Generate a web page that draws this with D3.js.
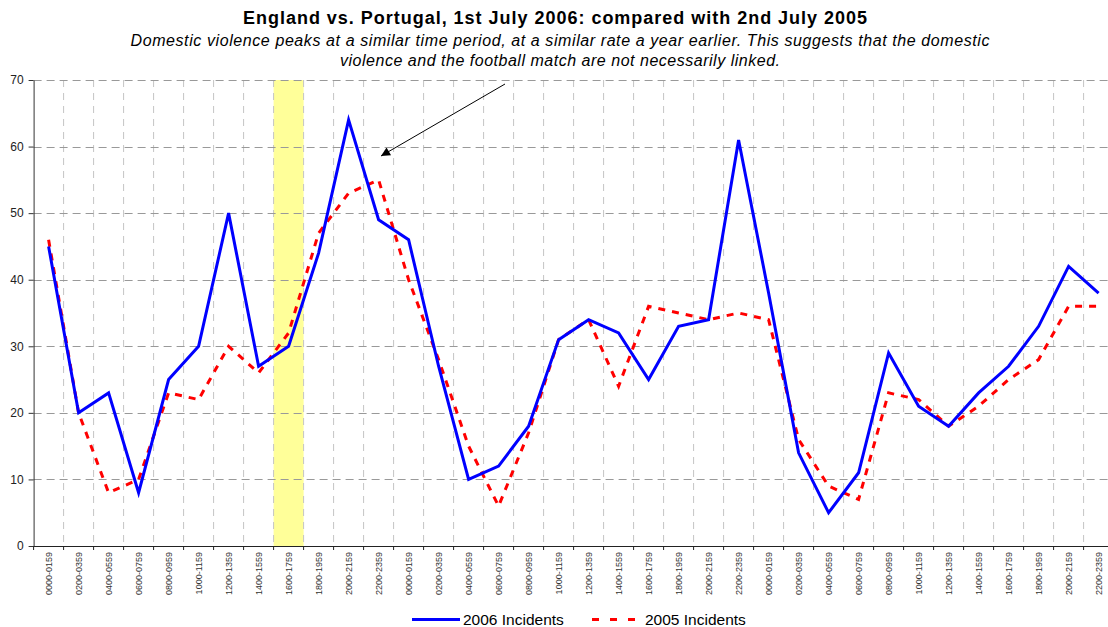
<!DOCTYPE html>
<html>
<head>
<meta charset="utf-8">
<script src="https://cdn.jsdelivr.net/npm/d3@7/dist/d3.min.js"></script>
<style>
    html, body { margin: 0; padding: 0; background: #fff; }
    svg { display: block; font-family: "Liberation Sans", Arial, sans-serif; }
</style>
</head>
<body>
<svg id="chart" width="1108" height="627"></svg>
<script>
// time slots, 3 consecutive days of 2-hour bands
const timeSlots = ['0000-0159', '0200-0359', '0400-0559', '0600-0759', '0800-0959', '1000-1159',
    '1200-1359', '1400-1559', '1600-1759', '1800-1959', '2000-2159', '2200-2359'];
const categories = timeSlots.concat(timeSlots, timeSlots);

const incidents2006 = [45, 20, 23, 8, 25, 30, 50, 27, 30, 44, 64, 49,
    46, 27, 10, 12, 18, 31, 34, 32, 25, 33, 34, 61,
    38, 14, 5, 11, 29, 21, 18, 23, 27, 33, 42, 38];
const incidents2005 = [46, 20, 8, 10, 23, 22, 30, 26, 32, 47, 53, 55,
    40, 28, 15, 6, 17, 31, 34, 24, 36, 35, 34, 35,
    34, 16, 9, 7, 23, 22, 18, 21, 25, 28, 36, 36];

const yTicks = [0, 10, 20, 30, 40, 50, 60, 70];
const highlightIndex = 8; // match kick-off band
const seriesNames = ['2006 Incidents', '2005 Incidents'];

const titleText = 'England vs. Portugal, 1st July 2006: compared with 2nd July 2005';
const subtitleLines = [
    'Domestic violence peaks at a similar time period, at a similar rate a year earlier. This suggests that the domestic',
    'violence and the football match are not necessarily linked.'
];

(function () {
    const svg = d3.select('#chart');
    const W = 1108;

    // plot area (runs slightly past the right edge, as in the original)
    const left = 33.6, top = 80, bottom = 546;
    const bandW = 30;
    const right = left + bandW * categories.length;

    const idx = d3.range(categories.length);
    const x = d3.scaleBand().domain(idx).range([left, right]).paddingInner(0).paddingOuter(0);
    const cx = i => x(i) + x.bandwidth() / 2;
    const y = d3.scaleLinear().domain([0, 70]).range([bottom, top]);

    // highlight band
    svg.append('rect')
        .attr('x', x(highlightIndex))
        .attr('y', top)
        .attr('width', x.bandwidth())
        .attr('height', bottom - top)
        .attr('fill', '#FFFF99');

    // vertical grid
    svg.append('g')
        .selectAll('line')
        .data(idx.slice(1))
        .join('line')
        .attr('x1', i => x(i)).attr('x2', i => x(i))
        .attr('y1', top).attr('y2', bottom)
        .attr('stroke', '#c4c4c4')
        .attr('stroke-width', 1)
        .attr('stroke-dasharray', '7,6');

    // horizontal grid
    svg.append('g')
        .selectAll('line')
        .data(yTicks.filter(t => t > 0))
        .join('line')
        .attr('x1', left).attr('x2', W)
        .attr('y1', d => Math.round(y(d)) + 0.5).attr('y2', d => Math.round(y(d)) + 0.5)
        .attr('stroke', '#999')
        .attr('stroke-width', 1)
        .attr('stroke-dasharray', '8,5');

    // y axis
    const yAxis = d3.axisLeft(y).tickValues(yTicks).tickSize(5).tickSizeOuter(0).tickPadding(5);
    const gy = svg.append('g').attr('transform', `translate(${left},0)`).call(yAxis);
    gy.select('.domain').attr('stroke', '#333');
    gy.selectAll('.tick line').attr('stroke', '#333');
    gy.selectAll('text').attr('font-size', '12px').attr('fill', '#222')
        .attr('font-family', '"Liberation Sans", Arial, sans-serif');

    // x axis
    const gx = svg.append('g').attr('transform', `translate(0,${bottom})`);
    gx.append('line')
        .attr('x1', left).attr('x2', W)
        .attr('y1', 0.5).attr('y2', 0.5)
        .attr('stroke', '#222');
    gx.selectAll('line.tk')
        .data(idx.concat([categories.length]))
        .join('line')
        .attr('class', 'tk')
        .attr('x1', i => left + i * bandW).attr('x2', i => left + i * bandW)
        .attr('y1', 0).attr('y2', 4)
        .attr('stroke', '#222');
    gx.selectAll('text')
        .data(idx)
        .join('text')
        .attr('transform', i => `translate(${cx(i) + 3},6) rotate(-90)`)
        .attr('text-anchor', 'end')
        .attr('font-size', '9px')
        .attr('fill', '#333')
        .text(i => categories[i]);

    // series lines
    const line = d3.line().x((d, i) => cx(i)).y(d => y(d));

    svg.append('path')
        .datum(incidents2005)
        .attr('d', line)
        .attr('fill', 'none')
        .attr('stroke', '#FF0000')
        .attr('stroke-width', 3)
        .attr('stroke-dasharray', '7,7');

    svg.append('path')
        .datum(incidents2006)
        .attr('d', line)
        .attr('fill', 'none')
        .attr('stroke', '#0000FF')
        .attr('stroke-width', 3)
        .attr('stroke-linejoin', 'miter');

    // annotation arrow pointing at the 2200-2359 peak
    svg.append('defs').append('marker')
        .attr('id', 'arrowhead')
        .attr('viewBox', '0 0 10 10')
        .attr('refX', 10).attr('refY', 5)
        .attr('markerWidth', 12).attr('markerHeight', 9)
        .attr('markerUnits', 'userSpaceOnUse')
        .attr('orient', 'auto')
        .append('path')
        .attr('d', 'M0,0 L10,5 L0,10 Z')
        .attr('fill', '#000');

    svg.append('line')
        .attr('x1', 505).attr('y1', 84)
        .attr('x2', 381).attr('y2', 156)
        .attr('stroke', '#000')
        .attr('stroke-width', 1)
        .attr('marker-end', 'url(#arrowhead)');

    // titles
    svg.append('text')
        .attr('x', 555).attr('y', 24)
        .attr('text-anchor', 'middle')
        .attr('font-size', '18px')
        .attr('font-weight', 'bold')
        .attr('fill', '#000')
        .attr('textLength', 624)
        .attr('lengthAdjust', 'spacing')
        .text(titleText);

    const subWidths = [859, 440];
    svg.append('g').selectAll('text')
        .data(subtitleLines)
        .join('text')
        .attr('x', 560)
        .attr('y', (d, i) => 46 + i * 20)
        .attr('text-anchor', 'middle')
        .attr('font-size', '16px')
        .attr('font-style', 'italic')
        .attr('fill', '#000')
        .attr('textLength', (d, i) => subWidths[i])
        .attr('lengthAdjust', 'spacing')
        .text(d => d);

    // legend
    const lg = svg.append('g');
    lg.append('line')
        .attr('x1', 412).attr('x2', 460)
        .attr('y1', 619.5).attr('y2', 619.5)
        .attr('stroke', '#0000FF').attr('stroke-width', 3);
    lg.append('text')
        .attr('x', 463).attr('y', 625)
        .attr('font-size', '15.5px').attr('fill', '#000')
        .text(seriesNames[0]);
    lg.append('line')
        .attr('x1', 592).attr('x2', 635)
        .attr('y1', 619.5).attr('y2', 619.5)
        .attr('stroke', '#FF0000').attr('stroke-width', 3)
        .attr('stroke-dasharray', '7,11');
    lg.append('text')
        .attr('x', 645).attr('y', 625)
        .attr('font-size', '15.5px').attr('fill', '#000')
        .text(seriesNames[1]);
})();
</script>
</body>
</html>
